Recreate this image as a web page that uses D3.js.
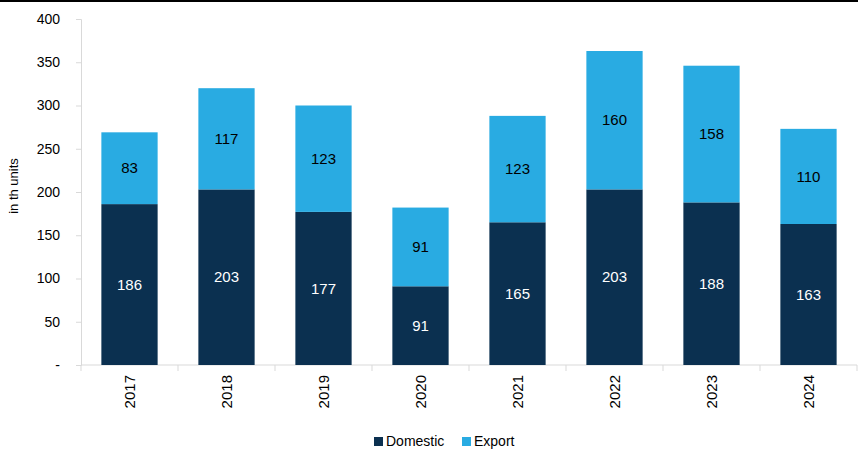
<!DOCTYPE html>
<html>
<head>
<meta charset="utf-8">
<script src="https://cdn.jsdelivr.net/npm/d3@7"></script>
<style>
  body { margin: 0; background: #fff; }
  text { font-family: "Liberation Sans", Arial, sans-serif; }
</style>
</head>
<body>
<div id="chart"></div>
<script>
const years = ['2017', '2018', '2019', '2020', '2021', '2022', '2023', '2024'];
const domestic = [186, 203, 177, 91, 165, 203, 188, 163];
const exportUnits = [83, 117, 123, 91, 123, 160, 158, 110];
const yTicks = [0, 50, 100, 150, 200, 250, 300, 350, 400];
const seriesNames = ['Domestic', 'Export'];

const width = 858;
const height = 452;
const colors = { Domestic: '#0b3050', Export: '#29abe2' };

const svg = d3.select('#chart').append('svg')
  .attr('width', width)
  .attr('height', height);

// top rule
svg.append('rect')
  .attr('x', 0).attr('y', 0)
  .attr('width', width).attr('height', 2)
  .attr('fill', '#000');

const x = d3.scaleBand().domain(years).range([81, 857]).paddingInner(0.42).paddingOuter(0.21);
const y = d3.scaleLinear().domain([0, 400]).range([365, 19]);

const rows = years.map((yr, i) => ({ year: yr, Domestic: domestic[i], Export: exportUnits[i] }));
const stacked = d3.stack().keys(seriesNames)(rows);

// y axis
const yAxis = svg.append('g')
  .attr('transform', 'translate(81,0)')
  .call(d3.axisLeft(y).tickValues(yTicks).tickSize(5).tickPadding(16)
    .tickFormat((d) => (d === 0 ? '-' : d)));
yAxis.selectAll('line, path').attr('stroke', '#d9d9d9');
yAxis.selectAll('text').attr('font-size', 14).attr('fill', '#000')
  .style('font-family', '"Liberation Sans", Arial, sans-serif');

// x axis with boundary ticks
const xAxis = svg.append('g').attr('transform', 'translate(0,365)');
xAxis.append('line')
  .attr('x1', 81).attr('x2', 857)
  .attr('stroke', '#d9d9d9');
const step = x.step();
xAxis.selectAll('line.tick')
  .data(d3.range(years.length + 1))
  .enter().append('line')
  .attr('class', 'tick')
  .attr('x1', (i) => 81 + i * step)
  .attr('x2', (i) => 81 + i * step)
  .attr('y1', 0).attr('y2', 6)
  .attr('stroke', '#d9d9d9');
xAxis.selectAll('text')
  .data(years)
  .enter().append('text')
  .attr('transform', (d) => `translate(${x(d) + x.bandwidth() / 2 + 5.5},10) rotate(-90)`)
  .attr('text-anchor', 'end')
  .attr('font-size', 15)
  .text((d) => d);

// bars
const layers = svg.selectAll('g.layer')
  .data(stacked)
  .enter().append('g')
  .attr('class', 'layer')
  .attr('fill', (d) => colors[d.key]);

layers.selectAll('rect')
  .data((d) => d)
  .enter().append('rect')
  .attr('x', (d) => x(d.data.year))
  .attr('y', (d) => y(d[1]))
  .attr('width', x.bandwidth())
  .attr('height', (d) => y(d[0]) - y(d[1]));

layers.selectAll('text')
  .data((d) => d.map((p) => ({ p, key: d.key })))
  .enter().append('text')
  .attr('x', (d) => x(d.p.data.year) + x.bandwidth() / 2)
  .attr('y', (d) => (y(d.p[0]) + y(d.p[1])) / 2)
  .attr('dy', '0.35em')
  .attr('text-anchor', 'middle')
  .attr('font-size', 15)
  .attr('fill', (d) => (d.key === 'Domestic' ? '#fff' : '#000'))
  .text((d) => d.p.data[d.key]);

// y label
svg.append('text')
  .attr('transform', 'translate(18,186) rotate(-90)')
  .attr('text-anchor', 'middle')
  .attr('font-size', 13)
  .text('in th units');

// legend
const legendPos = [374, 462];
const legend = svg.selectAll('g.legend')
  .data(seriesNames)
  .enter().append('g')
  .attr('class', 'legend')
  .attr('transform', (d, i) => `translate(${legendPos[i]},437)`);
legend.append('rect')
  .attr('width', 9).attr('height', 9)
  .attr('fill', (d) => colors[d]);
legend.append('text')
  .attr('x', 12).attr('y', 9)
  .attr('font-size', 14)
  .text((d) => d);
</script>
</body>
</html>
